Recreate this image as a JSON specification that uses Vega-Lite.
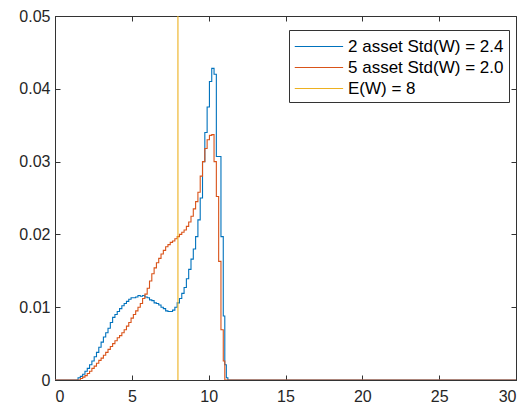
{
  "$schema": "https://vega.github.io/schema/vega-lite/v6.json",
  "width": 461,
  "height": 364,
  "autosize": {"type": "none"},
  "padding": {"left": 55, "top": 16, "right": 8, "bottom": 28},
  "config": {
    "font": "Liberation Sans",
    "view": {"stroke": "#333333", "strokeWidth": 1},
    "axis": {"grid": false, "domainColor": "#333333", "tickColor": "#333333", "labelColor": "#262626", "labelFontSize": 16, "labelFont": "Liberation Sans", "tickSize": -5, "title": null}
  },
  "datasets": {
    "curves": [
      {"x": 0, "a": 0, "b": 0},
      {"x": 1.5, "a": 0.0003, "b": 0.0000},
      {"x": 1.65, "a": 0.0005, "b": 0.0002},
      {"x": 1.8, "a": 0.0008, "b": 0.0004},
      {"x": 1.95, "a": 0.0012, "b": 0.0006},
      {"x": 2.1, "a": 0.0016, "b": 0.0009},
      {"x": 2.25, "a": 0.0021, "b": 0.0012},
      {"x": 2.4, "a": 0.0026, "b": 0.0016},
      {"x": 2.55, "a": 0.0032, "b": 0.0019},
      {"x": 2.7, "a": 0.0038, "b": 0.0023},
      {"x": 2.85, "a": 0.0045, "b": 0.0027},
      {"x": 3.0, "a": 0.0052, "b": 0.0030},
      {"x": 3.15, "a": 0.0059, "b": 0.0034},
      {"x": 3.3, "a": 0.0065, "b": 0.0038},
      {"x": 3.45, "a": 0.0071, "b": 0.0042},
      {"x": 3.6, "a": 0.0079, "b": 0.0046},
      {"x": 3.75, "a": 0.0086, "b": 0.0050},
      {"x": 3.9, "a": 0.0090, "b": 0.0054},
      {"x": 4.05, "a": 0.0094, "b": 0.0058},
      {"x": 4.2, "a": 0.0098, "b": 0.0061},
      {"x": 4.35, "a": 0.0102, "b": 0.0065},
      {"x": 4.5, "a": 0.0105, "b": 0.0069},
      {"x": 4.65, "a": 0.0108, "b": 0.0074},
      {"x": 4.8, "a": 0.0111, "b": 0.0079},
      {"x": 4.95, "a": 0.0113, "b": 0.0085},
      {"x": 5.1, "a": 0.0113, "b": 0.0090},
      {"x": 5.25, "a": 0.0114, "b": 0.0095},
      {"x": 5.4, "a": 0.0116, "b": 0.0100},
      {"x": 5.55, "a": 0.0115, "b": 0.0105},
      {"x": 5.7, "a": 0.0116, "b": 0.0112},
      {"x": 5.85, "a": 0.0114, "b": 0.0118},
      {"x": 6.0, "a": 0.0113, "b": 0.0126},
      {"x": 6.15, "a": 0.0110, "b": 0.0136},
      {"x": 6.3, "a": 0.0109, "b": 0.0146},
      {"x": 6.45, "a": 0.0106, "b": 0.0154},
      {"x": 6.6, "a": 0.0105, "b": 0.0161},
      {"x": 6.75, "a": 0.0103, "b": 0.0167},
      {"x": 6.9, "a": 0.0100, "b": 0.0173},
      {"x": 7.05, "a": 0.0098, "b": 0.0178},
      {"x": 7.2, "a": 0.0095, "b": 0.0183},
      {"x": 7.35, "a": 0.0094, "b": 0.0186},
      {"x": 7.5, "a": 0.0094, "b": 0.0189},
      {"x": 7.65, "a": 0.0096, "b": 0.0191},
      {"x": 7.8, "a": 0.0100, "b": 0.0194},
      {"x": 7.95, "a": 0.0106, "b": 0.0197},
      {"x": 8.1, "a": 0.0112, "b": 0.0200},
      {"x": 8.25, "a": 0.0119, "b": 0.0203},
      {"x": 8.4, "a": 0.0127, "b": 0.0206},
      {"x": 8.55, "a": 0.0139, "b": 0.0211},
      {"x": 8.7, "a": 0.0152, "b": 0.0217},
      {"x": 8.85, "a": 0.0166, "b": 0.0225},
      {"x": 9.0, "a": 0.0180, "b": 0.0235},
      {"x": 9.15, "a": 0.0197, "b": 0.0245},
      {"x": 9.3, "a": 0.0220, "b": 0.0258},
      {"x": 9.45, "a": 0.0250, "b": 0.0280},
      {"x": 9.6, "a": 0.0300, "b": 0.0300},
      {"x": 9.75, "a": 0.0340, "b": 0.0318},
      {"x": 9.9, "a": 0.0375, "b": 0.0330},
      {"x": 10.05, "a": 0.0410, "b": 0.0336},
      {"x": 10.2, "a": 0.0428, "b": 0.0337},
      {"x": 10.35, "a": 0.0420, "b": 0.0300},
      {"x": 10.5, "a": 0.0307, "b": 0.0252},
      {"x": 10.65, "a": 0.0307, "b": 0.0163},
      {"x": 10.8, "a": 0.0197, "b": 0.0069},
      {"x": 10.95, "a": 0.0088, "b": 0.0026},
      {"x": 11.05, "a": 0.0021, "b": 0},
      {"x": 11.15, "a": 0.0003, "b": 0},
      {"x": 11.25, "a": 0, "b": 0},
      {"x": 30, "a": 0, "b": 0}
    ]
  },
  "layer": [
    {
      "data": {"name": "curves"},
      "transform": [{"fold": ["a", "b"], "as": ["series", "y"]}],
      "mark": {"type": "line", "interpolate": "step-after", "strokeWidth": 1.1, "clip": true},
      "encoding": {
        "x": {"field": "x", "type": "quantitative", "scale": {"domain": [0, 30], "nice": false}, "axis": {"values": [0, 5, 10, 15, 20, 25, 30], "orient": "bottom", "labelPadding": 13}},
        "y": {"field": "y", "type": "quantitative", "scale": {"domain": [0, 0.05], "nice": false}, "axis": {"values": [0, 0.01, 0.02, 0.03, 0.04, 0.05], "format": ".2~f", "orient": "left", "labelPadding": 10}},
        "color": {"field": "series", "type": "nominal", "scale": {"domain": ["a", "b", "e"], "range": ["#0072BD", "#D95319", "#EDB120"]},
          "legend": {"orient": "none", "legendX": 234, "legendY": 14, "title": null, "padding": 5, "strokeColor": "#333333", "fillColor": "#ffffff", "symbolType": "M-1,0L3.5,0", "symbolSize": 462, "symbolStrokeWidth": 1.2, "labelFontSize": 17, "labelFont": "Liberation Sans", "labelColor": "#000000", "labelLimit": 300, "rowPadding": 1, "labelOffset": 31,
            "labelExpr": "datum.value == 'a' ? '2 asset Std(W) = 2.4' : datum.value == 'b' ? '5 asset Std(W) = 2.0' : 'E(W) = 8'"}}
      }
    },
    {
      "data": {"name": "curves"},
      "transform": [{"fold": ["a", "b"], "as": ["series", "y"]}],
      "mark": {"type": "line", "opacity": 0},
      "encoding": {
        "x": {"field": "x", "type": "quantitative", "axis": {"values": [0, 5, 10, 15, 20, 25, 30], "orient": "top", "labels": false, "domain": false}},
        "y": {"field": "y", "type": "quantitative", "axis": {"values": [0, 0.01, 0.02, 0.03, 0.04, 0.05], "orient": "right", "labels": false, "domain": false}},
        "detail": {"field": "series"}
      }
    },
    {
      "data": {"values": [{"x": 8, "series": "e"}]},
      "mark": {"type": "rule", "strokeWidth": 1.1},
      "encoding": {
        "x": {"field": "x", "type": "quantitative", "axis": null},
        "color": {"field": "series", "type": "nominal"}
      }
    }
  ],
  "resolve": {"axis": {"x": "independent", "y": "independent"}}
}
